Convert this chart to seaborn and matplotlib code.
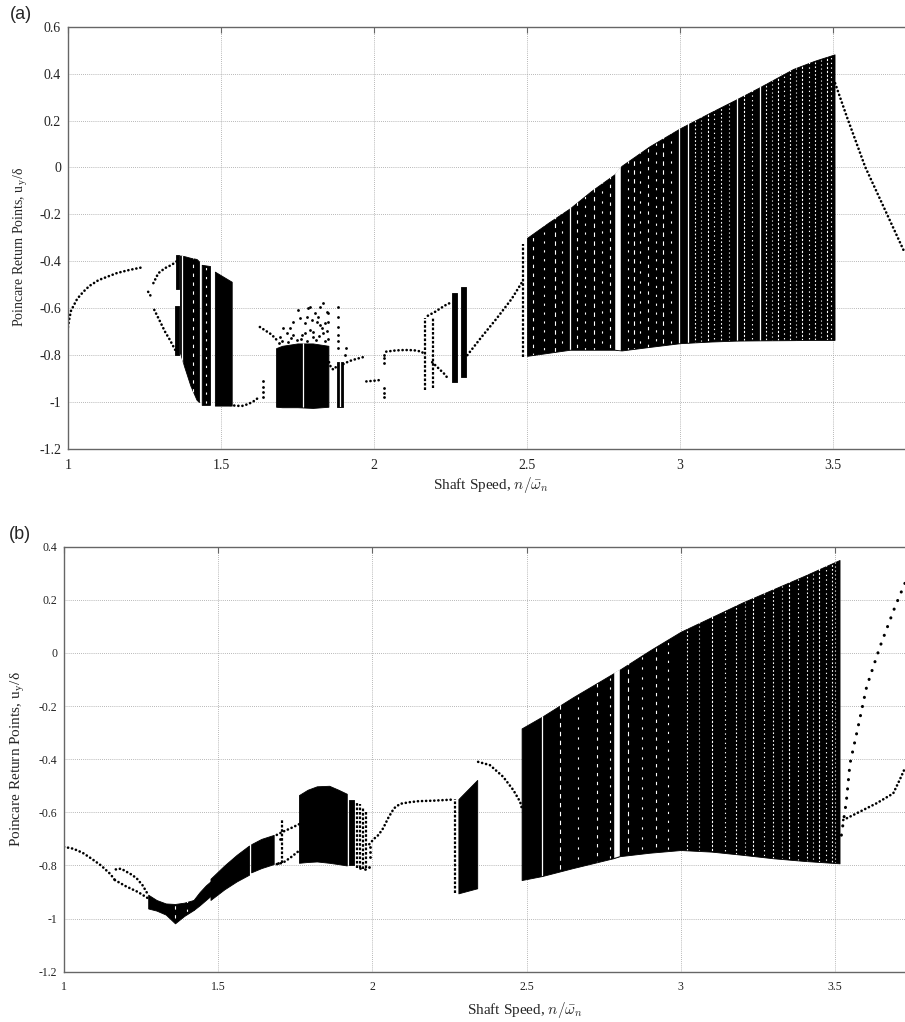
import numpy as np
import pandas as pd
import matplotlib
matplotlib.use("Agg")
import matplotlib.pyplot as plt
import seaborn as sns
from matplotlib.ticker import FuncFormatter

sns.set_style("white")
plt.rcParams['font.family'] = ['Liberation Serif', 'DejaVu Serif']
plt.rcParams['mathtext.fontset'] = 'cm'
plt.rcParams['axes.unicode_minus'] = False

# ---------------- panel (a) data ----------------
a_p1_x = [1.0, 1.005, 1.01, 1.02, 1.03, 1.05, 1.07, 1.10, 1.13, 1.16, 1.20, 1.245]
a_p1_y = [-0.68, -0.64, -0.61, -0.585, -0.56, -0.53, -0.505, -0.48, -0.465, -0.45, -0.437, -0.425]
a_s1_x = [1.262, 1.275]
a_s1_y = [-0.53, -0.558]
a_p2u_x = [1.279, 1.295, 1.317, 1.339, 1.355]
a_p2u_y = [-0.493, -0.451, -0.429, -0.415, -0.40]
a_p2l_x = [1.282, 1.301, 1.317, 1.333, 1.35]
a_p2l_y = [-0.607, -0.657, -0.70, -0.735, -0.777]
a_p3_x = [1.53, 1.55, 1.57, 1.59, 1.61, 1.625]
a_p3_y = [-1.012, -1.016, -1.016, -1.008, -0.994, -0.978]
a_p4_x = [1.627, 1.645, 1.665, 1.682]
a_p4_y = [-0.68, -0.695, -0.712, -0.735]
a_loop_x = [1.853, 1.86, 1.868, 1.876]
a_loop_y = [-0.83, -0.855, -0.862, -0.85]
a_p5_x = [1.90, 1.92, 1.94, 1.96, 1.975]
a_p5_y = [-0.838, -0.825, -0.817, -0.81, -0.805]
a_p6_x = [1.975, 2.0, 2.027]
a_p6_y = [-0.912, -0.909, -0.905]
a_p7_x = [2.04, 2.07, 2.10, 2.13, 2.156, 2.166]
a_p7_y = [-0.785, -0.780, -0.778, -0.779, -0.785, -0.80]
a_p8u_x = [2.176, 2.20, 2.22, 2.24, 2.255]
a_p8u_y = [-0.632, -0.615, -0.598, -0.582, -0.575]
a_p8l_x = [2.19, 2.21, 2.23, 2.245]
a_p8l_y = [-0.83, -0.855, -0.88, -0.905]
a_p9_x = [2.305, 2.35, 2.40, 2.45, 2.488]
a_p9_y = [-0.80, -0.725, -0.645, -0.56, -0.48]
a_p10_x = [3.507, 3.545, 3.605, 3.675, 3.730]
a_p10_y = [0.359, 0.217, 0.003, -0.195, -0.351]

# isolated dots
a_dots_x = [1.636, 1.636, 1.636, 1.636, 2.033, 2.033, 2.033, 2.033, 2.033, 2.033,
            1.883, 1.883, 1.883, 1.883, 1.883, 1.883, 1.91, 1.905]
a_dots_y = [-0.912, -0.934, -0.956, -0.98, -0.80, -0.812, -0.833, -0.94, -0.96, -0.98,
            -0.593, -0.636, -0.678, -0.714, -0.74, -0.77, -0.77, -0.80]
# sparse chaotic points above the 1.68-1.85 band
a_sparse_x = [1.736, 1.753, 1.785, 1.791, 1.807, 1.824, 1.834, 1.845, 1.796, 1.813, 1.775,
              1.758, 1.725, 1.704, 1.715, 1.736, 1.775, 1.791, 1.824, 1.84, 1.851, 1.693,
              1.747, 1.802, 1.834, 1.818, 1.780, 1.829, 1.70, 1.72, 1.76, 1.78, 1.81, 1.84,
              1.85, 1.69, 1.73, 1.765, 1.80, 1.82, 1.845, 1.85]
a_sparse_y = [-0.657, -0.607, -0.600, -0.593, -0.621, -0.593, -0.579, -0.614, -0.650, -0.657,
              -0.664, -0.642, -0.685, -0.685, -0.706, -0.714, -0.706, -0.692, -0.671, -0.664,
              -0.657, -0.721, -0.735, -0.721, -0.706, -0.636, -0.636, -0.685, -0.74, -0.745,
              -0.73, -0.74, -0.735, -0.74, -0.73, -0.75, -0.725, -0.715, -0.70, -0.72, -0.695, -0.62]

# chaotic bands: x, lower envelope, upper envelope
a_bands = {
    "b0a": ([1.352, 1.364], [-0.52, -0.52], [-0.375, -0.375]),
    "b0b": ([1.350, 1.364], [-0.80, -0.80], [-0.59, -0.59]),
    "b1": ([1.366, 1.38, 1.40, 1.42, 1.428], [-0.79, -0.85, -0.93, -0.99, -1.0], [-0.375, -0.378, -0.385, -0.39, -0.40]),
    "b2": ([1.437, 1.464], [-1.012, -1.012], [-0.415, -0.42]),
    "b3": ([1.48, 1.535], [-1.015, -1.015], [-0.444, -0.487]),
    "b4": ([1.68, 1.70, 1.75, 1.80, 1.851], [-1.02, -1.022, -1.022, -1.025, -1.02], [-0.77, -0.76, -0.75, -0.75, -0.76]),
    "b5": ([1.878, 1.90], [-1.02, -1.02], [-0.83, -0.83]),
    "b6": ([2.255, 2.27], [-0.915, -0.915], [-0.535, -0.535]),
    "b7": ([2.285, 2.30], [-0.895, -0.895], [-0.51, -0.51]),
    "main": ([2.50, 2.57, 2.64, 2.71, 2.787, 2.809, 2.9, 3.0, 3.1, 3.185, 3.26, 3.37, 3.44, 3.505],
             [-0.803, -0.79, -0.777, -0.777, -0.777, -0.78, -0.765, -0.749, -0.742, -0.738, -0.737, -0.736, -0.735, -0.735],
             [-0.30, -0.235, -0.174, -0.10, -0.028, 0.007, 0.09, 0.167, 0.235, 0.291, 0.342, 0.42, 0.455, 0.482]),
}
# vertical strips of points: x, ymin, ymax
a_strips_x = [2.167, 2.193, 2.488]
a_strips_lo = [-0.95, -0.94, -0.806]
a_strips_hi = [-0.64, -0.64, -0.325]
# white gaps inside the bands
a_gap_full = [1.373, 1.767, 1.889, 2.64, 2.997, 3.025, 3.185, 3.26]
a_gap_wide = [2.798]
a_gap_sparse = [2.52, 2.555, 2.59, 2.615, 2.665, 2.69, 2.72, 2.745, 2.77, 2.83, 2.85, 2.87,
                2.895, 2.92, 2.946, 2.97, 1.41, 1.452]
a_gap_dense = [3.05, 3.07, 3.09, 3.11, 3.135, 3.16, 3.21, 3.235, 3.28, 3.30, 3.32, 3.34,
               3.36, 3.38, 3.40, 3.42, 3.44, 3.46, 3.48, 3.495]

# ---------------- panel (b) data ----------------
b_p1_x = [1.0, 1.03, 1.06, 1.09, 1.12, 1.15, 1.165]
b_p1_y = [-0.73, -0.737, -0.752, -0.775, -0.80, -0.832, -0.855]
b_p2l_x = [1.165, 1.20, 1.24, 1.273]
b_p2l_y = [-0.855, -0.878, -0.90, -0.924]
b_p2u_x = [1.168, 1.185, 1.203, 1.22, 1.236, 1.255, 1.273]
b_p2u_y = [-0.815, -0.812, -0.824, -0.835, -0.849, -0.875, -0.911]
b_p4u_x = [1.69, 1.71, 1.735, 1.762]
b_p4u_y = [-0.685, -0.673, -0.66, -0.645]
b_p4l_x = [1.69, 1.71, 1.735, 1.762]
b_p4l_y = [-0.795, -0.79, -0.77, -0.745]
b_p5_x = [1.99, 2.005, 2.02, 2.035, 2.052, 2.07, 2.09, 2.12, 2.15, 2.20, 2.262]
b_p5_y = [-0.72, -0.70, -0.685, -0.66, -0.62, -0.585, -0.568, -0.562, -0.558, -0.556, -0.552]
b_p6_x = [2.343, 2.381, 2.424, 2.457, 2.479, 2.486]
b_p6_y = [-0.41, -0.422, -0.466, -0.516, -0.56, -0.59]
b_p7_x = [3.521, 3.537, 3.549, 3.573, 3.603, 3.646, 3.695, 3.727]
b_p7_y = [-0.686, -0.56, -0.416, -0.29, -0.127, 0.023, 0.174, 0.262]
b_p8_x = [3.527, 3.57, 3.635, 3.689, 3.71, 3.727]
b_p8_y = [-0.629, -0.604, -0.566, -0.529, -0.478, -0.434]

b_dots_x = [1.96, 1.975, 1.99, 1.992, 1.992, 1.992, 1.70, 1.695]
b_dots_y = [-0.81, -0.815, -0.805, -0.73, -0.75, -0.77, -0.70, -0.79]

b_bands = {
    "b1": ([1.273, 1.30, 1.33, 1.36, 1.39, 1.42], [-0.962, -0.970, -0.985, -1.018, -0.99, -0.968], [-0.91, -0.93, -0.943, -0.945, -0.94, -0.93]),
    "b1b": ([1.42, 1.44, 1.46, 1.475], [-0.968, -0.95, -0.93, -0.915], [-0.93, -0.90, -0.875, -0.86]),
    "b2": ([1.475, 1.52, 1.56, 1.60], [-0.93, -0.89, -0.86, -0.835], [-0.85, -0.80, -0.76, -0.725]),
    "b3": ([1.607, 1.64, 1.68], [-0.826, -0.81, -0.795], [-0.72, -0.70, -0.685]),
    "b4": ([1.762, 1.79, 1.82, 1.86, 1.89, 1.917], [-0.79, -0.787, -0.785, -0.79, -0.795, -0.80], [-0.535, -0.515, -0.502, -0.50, -0.515, -0.53]),
    "b5": ([1.925, 1.94], [-0.80, -0.80], [-0.555, -0.555]),
    "b6": ([2.279, 2.34], [-0.905, -0.886], [-0.55, -0.478]),
    "main": ([2.484, 2.55, 2.65, 2.781, 2.803, 2.9, 3.0, 3.1, 3.2, 3.3, 3.4, 3.515],
             [-0.855, -0.84, -0.81, -0.773, -0.765, -0.752, -0.742, -0.748, -0.76, -0.773, -0.783, -0.792],
             [-0.284, -0.24, -0.167, -0.077, -0.062, 0.01, 0.08, 0.135, 0.19, 0.24, 0.29, 0.35]),
}
b_strips_x = [1.708, 1.95, 1.96, 1.97, 1.98, 2.268]
b_strips_lo = [-0.792, -0.81, -0.81, -0.815, -0.81, -0.905]
b_strips_hi = [-0.63, -0.56, -0.57, -0.58, -0.60, -0.55]
b_gap_full = [1.603, 2.272, 2.549]
b_gap_wide = [2.792]
b_gap_sparse = [1.36, 1.40, 2.61, 2.666, 2.73, 2.77, 2.83, 2.875, 2.92, 2.96]
b_gap_dense = [3.02, 3.06, 3.10, 3.145, 3.18, 3.21, 3.235, 3.27, 3.30, 3.33, 3.35, 3.38,
               3.41, 3.43, 3.45, 3.47, 3.49, 3.50]

xticks = [1, 1.5, 2, 2.5, 3, 3.5]
a_yticks = [0.6, 0.4, 0.2, 0, -0.2, -0.4, -0.6, -0.8, -1, -1.2]
b_yticks = [0.4, 0.2, 0, -0.2, -0.4, -0.6, -0.8, -1, -1.2]

W, H = 905, 1022
fig = plt.figure(figsize=(W / 100, H / 100), dpi=100)

def px_axes(left, right, top, bottom):
    return fig.add_axes([left / W, 1 - bottom / H, (right - left) / W, (bottom - top) / H])

ax_a = px_axes(68, 909.5, 26.7, 449)
ax_b = px_axes(64, 912, 546.7, 971.7)

DOT = dict(color='black', lw=1.9, linestyle=(0, (0.05, 1.5)), dash_capstyle='round',
           estimator=None, sort=False, legend=False)

SPARSE_STYLES = [(0, (3, 5)), (2, (2, 6)), (4, (4, 4)), (1, (2, 7))]
DENSE_STYLES = [(0, (1.5, 2.0)), (1, (1.0, 2.6)), (0.5, (2.0, 1.6)), (2, (1.2, 3.0))]

def bands(ax, bdict, full, wide, sparse, dense):
    polys = []
    for key, (x, lo, hi) in bdict.items():
        p = ax.fill_between(x, lo, hi, color='black', lw=0.6, edgecolor='black', zorder=2)
        polys.append((x, p))
    def clipped(xs, lw, styles):
        for i, xv in enumerate(xs):
            for x, p in polys:
                if x[0] < xv < x[-1]:
                    ln = ax.vlines([xv], -1.3, 0.7, colors='white', lw=lw,
                                   linestyles=[styles[i % len(styles)]], zorder=3)
                    ln.set_clip_path(p.get_paths()[0], transform=ax.transData)
    clipped(full, 0.9, ['solid'])
    clipped(wide, 4.0, ['solid'])
    clipped(sparse, 0.8, SPARSE_STYLES)
    clipped(dense, 0.8, DENSE_STYLES)

def strips(ax, xs, lo, hi):
    ax.vlines(xs, lo, hi, colors='black', lw=1.6, linestyles=[(0, (1.2, 0.8))], zorder=2)

def style(ax, ylim, yticks, tick_fs):
    ax.set_xlim(1, 3.75)
    ax.set_ylim(*ylim)
    ax.set_xticks(xticks)
    ax.set_yticks(yticks)
    fmt = FuncFormatter(lambda v, p: ('%g' % round(v, 3)) if abs(v) > 1e-9 else '0')
    ax.xaxis.set_major_formatter(fmt)
    ax.yaxis.set_major_formatter(fmt)
    ax.grid(True, color='#a0a0a0', linestyle=(0, (1, 1.5)), lw=0.6, zorder=0)
    ax.set_axisbelow(True)
    for s in ['top', 'bottom', 'left']:
        ax.spines[s].set_color('#666666')
        ax.spines[s].set_linewidth(1.0)
    ax.spines['right'].set_visible(False)
    ax.tick_params(direction='in', top=True, right=False, length=4, width=0.8,
                   color='#666666', labelsize=tick_fs, labelcolor='#222222')
    ax.tick_params(axis='x', pad=7)
    ax.tick_params(axis='y', pad=5)

# ---- panel (a)
ax = ax_a
for x, y in [(a_p1_x, a_p1_y), (a_s1_x, a_s1_y), (a_p2u_x, a_p2u_y), (a_p2l_x, a_p2l_y),
             (a_p3_x, a_p3_y), (a_p4_x, a_p4_y), (a_loop_x, a_loop_y), (a_p5_x, a_p5_y),
             (a_p6_x, a_p6_y), (a_p7_x, a_p7_y), (a_p8u_x, a_p8u_y), (a_p8l_x, a_p8l_y),
             (a_p9_x, a_p9_y), (a_p10_x, a_p10_y)]:
    sns.lineplot(x=x, y=y, ax=ax, **DOT)
bands(ax, a_bands, a_gap_full, a_gap_wide, a_gap_sparse, a_gap_dense)
strips(ax, a_strips_x, a_strips_lo, a_strips_hi)
sns.scatterplot(x=a_dots_x + a_sparse_x, y=a_dots_y + a_sparse_y, ax=ax, color='black',
                s=4, linewidth=0, legend=False, zorder=4)
style(ax, (-1.2, 0.6), a_yticks, 10)
ax.set_xlabel(r'Shaft Speed, $n/\bar{\omega}_n$', fontsize=11)
ax.set_ylabel(r'Poincare Return Points, u$_\mathregular{y}$/δ', fontsize=10)
ax.xaxis.set_label_coords(0.503, -0.085)
ax.xaxis.label.set_va('center')
ax.yaxis.set_label_coords(-0.056, 0.478)
ax.yaxis.label.set_va('center')

# ---- panel (b)
ax = ax_b
for x, y in [(b_p1_x, b_p1_y), (b_p2l_x, b_p2l_y), (b_p2u_x, b_p2u_y), (b_p4u_x, b_p4u_y),
             (b_p4l_x, b_p4l_y), (b_p5_x, b_p5_y), (b_p6_x, b_p6_y), (b_p8_x, b_p8_y)]:
    sns.lineplot(x=x, y=y, ax=ax, **DOT)
sns.lineplot(x=b_p7_x, y=b_p7_y, ax=ax, color='black', lw=2.2, linestyle=(0, (0.05, 3.0)),
             dash_capstyle='round', estimator=None, sort=False, legend=False)
bands(ax, b_bands, b_gap_full, b_gap_wide, b_gap_sparse, b_gap_dense)
strips(ax, b_strips_x, b_strips_lo, b_strips_hi)
sns.scatterplot(x=b_dots_x, y=b_dots_y, ax=ax, color='black', s=4, linewidth=0,
                legend=False, zorder=4)
style(ax, (-1.2, 0.4), b_yticks, 8.5)
ax.set_xlabel(r'Shaft Speed, $n/\bar{\omega}_n$', fontsize=11)
ax.set_ylabel(r'Poincare Return Points, u$_\mathregular{y}$/δ', fontsize=11)
ax.xaxis.set_label_coords(0.544, -0.09)
ax.xaxis.label.set_va('center')
ax.yaxis.set_label_coords(-0.054, 0.5)
ax.yaxis.label.set_va('center')

fig.text(21 / W, 1 - 14 / H, '(a)', family='Liberation Sans', fontsize=13, ha='center', va='center')
fig.text(20 / W, 1 - 534 / H, '(b)', family='Liberation Sans', fontsize=13, ha='center', va='center')

fig.savefig('out.png', dpi=100)
